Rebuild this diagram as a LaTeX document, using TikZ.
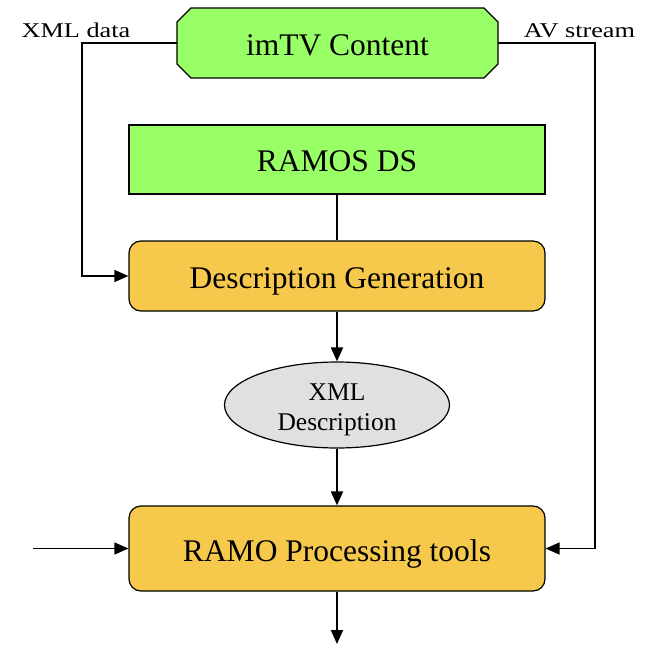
\documentclass[tikz,border=0pt]{standalone}
\usepackage{fontspec}
\setmainfont{Liberation Serif}
\newfontfamily\lblfont[FakeStretch=1.25]{Liberation Serif}
\usetikzlibrary{arrows.meta,shapes.geometric}
\definecolor{boxgreen}{RGB}{153,255,102}
\definecolor{boxorange}{RGB}{246,201,77}
\definecolor{ellgray}{RGB}{224,224,224}
\tikzset{
  x=1pt,y=-1pt,
  conn/.style={line width=1.3pt},
  arr/.style={line width=2pt,-{Triangle[length=14pt,width=12pt]}},
  sidearr/.style={line width=1.3pt,-{Triangle[length=14pt,width=12pt]}},
  bigtext/.style={font=\fontsize{31.5}{34}\selectfont,text height=25pt,text depth=0pt},
  greenbox/.style={draw,line width=1.2pt,fill=boxgreen,minimum width=416pt,minimum height=69pt,bigtext},
  orangebox/.style={draw,line width=1.2pt,fill=boxorange,rounded corners=12pt,minimum width=416pt,bigtext},
  lbl/.style={font=\lblfont\fontsize{21}{24}\selectfont,inner sep=0pt,anchor=base}
}
\begin{document}
\begin{tikzpicture}
\useasboundingbox (0,0) rectangle (652,644);
% octagon imTV Content
\filldraw[line width=1.2pt,fill=boxgreen]
  (191,8) -- (484,8) -- (498,22) -- (498,64) -- (484,78) -- (191,78) -- (177,64) -- (177,22) -- cycle;
\node[minimum width=321pt,minimum height=70pt,inner sep=0pt,bigtext] (imtv) at (337.5,43) {imTV Content};
\node[greenbox] (ramos) at (337,159.5) {RAMOS DS};
\node[orangebox,minimum height=70pt] (dg) at (337,276) {Description Generation};
\node[ellipse,draw,line width=1.2pt,fill=ellgray,minimum width=225pt,minimum height=86pt,inner sep=0pt,align=center,font=\fontsize{25.5}{30}\selectfont,text height=55pt,text depth=5pt] (xml) at (337,405) {XML\\Description};
\node[orangebox,minimum height=85pt] (ramo) at (337,548.5) {RAMO Processing tools};
\node[lbl] (xmldata) at (76,38) {XML data};
\node[lbl] (avstream) at (579.5,38) {AV stream};
\coordinate (xl) at (82,43);
\coordinate (xr) at (595,43);
\coordinate (inl) at (33,548.5);
\coordinate (out) at (337,644);
\draw[sidearr] (imtv.west) -- (xl) |- (dg.west);
\draw[sidearr] (imtv.east) -- (xr) |- (ramo.east);
\draw[conn] (ramos.south) -- (dg.north);
\draw[arr] (dg.south) -- (xml.north);
\draw[arr] (xml.south) -- (ramo.north);
\draw[sidearr] (inl) -- (ramo.west);
\draw[arr] (ramo.south) -- (out);
\end{tikzpicture}
\end{document}
